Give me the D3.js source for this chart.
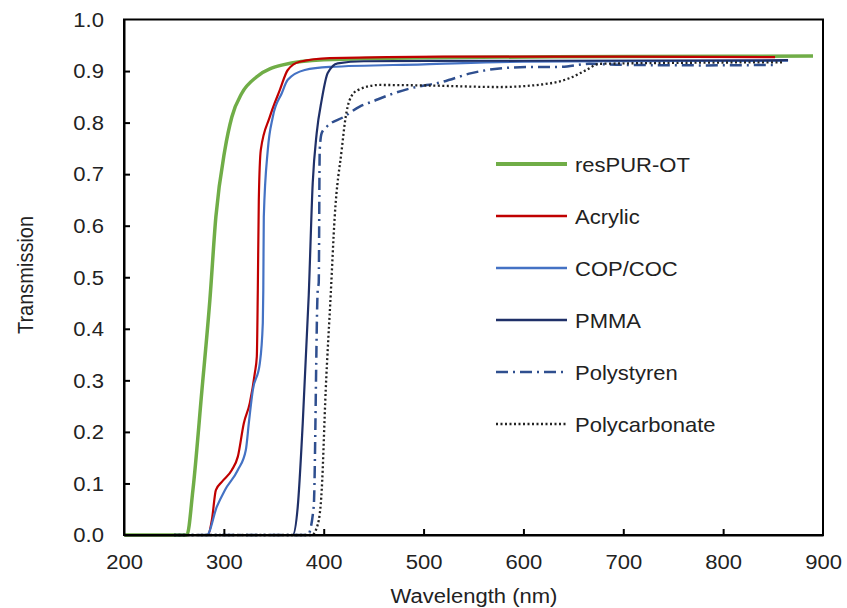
<!DOCTYPE html>
<html>
<head>
<meta charset="utf-8">
<script src="https://cdn.jsdelivr.net/npm/d3@7"></script>
<style>
  body { margin: 0; background: #fff; }
  text { font-family: "Liberation Sans", Arial, sans-serif; fill: #222; }
</style>
</head>
<body>
<script>
// data (wavelength nm, transmission)
var resPUR = [[200,0],[255,0],[263,0],[269,0.087],[278,0.28],[286,0.456],[292,0.617],[301,0.747],[308,0.811],[318,0.857],[333,0.889],[359,0.912],[400,0.922],[500,0.926],[700,0.928],[890,0.929]];
var acrylic = [[200,0],[284,0],[288,0.029],[292,0.087],[298,0.103],[308,0.126],[314,0.152],[320,0.217],[326,0.256],[331,0.314],[333,0.346],[334,0.475],[335,0.65],[337,0.747],[346,0.811],[356,0.863],[364,0.902],[376,0.918],[406,0.925],[520,0.928],[700,0.928],[852,0.927]];
var copcoc = [[250,0],[283,0],[293,0.055],[301,0.087],[314,0.126],[322,0.165],[325,0.217],[329,0.281],[336,0.333],[339,0.411],[339.5,0.475],[340,0.617],[344,0.747],[349,0.811],[358,0.857],[364,0.883],[381,0.902],[406,0.908],[500,0.913],[600,0.918],[700,0.919],[865,0.92]];
var pmma = [[250,0],[369,0],[374,0.055],[379,0.217],[385,0.465],[389,0.683],[393,0.78],[398,0.844],[404,0.896],[414,0.915],[440,0.919],[600,0.92],[865,0.921]];
var polystyren = [[250,0],[384,0],[390,0.055],[394,0.475],[395,0.489],[396,0.747],[398,0.78],[403,0.792],[420,0.811],[436,0.831],[449,0.841],[466,0.854],[486,0.866],[519,0.879],[548,0.896],[576,0.905],[609,0.908],[636,0.908],[666,0.914],[700,0.912],[780,0.911],[853,0.912]];
var polycarbonate = [[250,0],[388,0],[394,0.02],[398,0.087],[402,0.281],[407,0.466],[411,0.617],[418,0.747],[422,0.811],[426,0.844],[434,0.863],[456,0.873],[503,0.872],[576,0.869],[626,0.876],[646,0.886],[663,0.902],[676,0.914],[760,0.916],[860,0.917]];

var seriesNames = ['resPUR-OT', 'Acrylic', 'COP/COC', 'PMMA', 'Polystyren', 'Polycarbonate'];
var seriesData = [resPUR, acrylic, copcoc, pmma, polystyren, polycarbonate];
var xTicks = [200, 300, 400, 500, 600, 700, 800, 900];
var yTicks = [0, 0.1, 0.2, 0.3, 0.4, 0.5, 0.6, 0.7, 0.8, 0.9, 1.0];

var styles = [
  {color: '#70AD47', width: 3.5, dash: null},
  {color: '#C00000', width: 2.2, dash: null},
  {color: '#4472C4', width: 2.2, dash: null},
  {color: '#1F3068', width: 2.2, dash: null},
  {color: '#2F4F8F', width: 2.5, dash: '12,5,2,5'},
  {color: '#222', width: 2.3, dash: '2,2.5'}
];

var width = 847, height = 608;
var fontSize = '19.5px';
var stretch = 'scale(1.13,1)'; // the reference text is a little wide

var svg = d3.select('body').append('svg')
    .attr('width', width)
    .attr('height', height);

var x = d3.scaleLinear().domain([200, 900]).range([124, 823]);
var y = d3.scaleLinear().domain([0, 1]).range([535, 19.5]);

// curves
var line = d3.line()
    .x(function(d) { return x(d[0]); })
    .y(function(d) { return y(d[1]); })
    .curve(d3.curveMonotoneX);

svg.append('g').selectAll('path')
    .data(seriesData)
    .enter().append('path')
    .attr('d', line)
    .attr('fill', 'none')
    .attr('stroke', function(d, i) { return styles[i].color; })
    .attr('stroke-width', function(d, i) { return styles[i].width; })
    .attr('stroke-dasharray', function(d, i) { return styles[i].dash; })
    .attr('stroke-linejoin', 'round');

// frame
svg.append('rect')
    .attr('x', x(200)).attr('y', y(1))
    .attr('width', x(900) - x(200)).attr('height', y(0) - y(1))
    .attr('fill', 'none').attr('stroke', '#000').attr('stroke-width', 2);

// axes, ticks pointing inwards
var xAxis = svg.append('g')
    .attr('transform', 'translate(0,' + y(0) + ')')
    .call(d3.axisBottom(x).tickValues(xTicks).tickSizeInner(-6).tickSizeOuter(0));
var yAxis = svg.append('g')
    .attr('transform', 'translate(' + x(200) + ',0)')
    .call(d3.axisLeft(y).tickValues(yTicks).tickFormat(d3.format('.1f')).tickSizeInner(-6).tickSizeOuter(0));

[xAxis, yAxis].forEach(function(a) {
  a.select('.domain').attr('stroke', '#000').attr('stroke-width', 2);
  a.selectAll('.tick line').attr('stroke', '#000').attr('stroke-width', 2);
  a.selectAll('.tick text')
    .style('font-family', '"Liberation Sans", Arial, sans-serif')
    .style('font-size', fontSize)
    .attr('fill', '#222')
    .attr('x', 0).attr('y', 0).attr('dy', '0.35em');
});
xAxis.selectAll('.tick text').attr('transform', 'translate(0,27) ' + stretch);
yAxis.selectAll('.tick text').attr('transform', 'translate(-20,0) ' + stretch);
xAxis.selectAll('.tick line').filter(function(d) { return d === 200 || d === 900; }).remove();
yAxis.selectAll('.tick line').filter(function(d) { return d === 0 || d === 1; }).remove();

// axis titles
svg.append('text')
    .attr('transform', 'translate(474,603) ' + stretch)
    .attr('text-anchor', 'middle')
    .style('font-size', fontSize)
    .text('Wavelength (nm)');

svg.append('text')
    .attr('transform', 'translate(33,275) rotate(-90) scale(1,1.13)')
    .attr('text-anchor', 'middle')
    .style('font-size', '20px')
    .text('Transmission');

// legend
var legend = svg.append('g').selectAll('g')
    .data(seriesNames)
    .enter().append('g')
    .attr('transform', function(d, i) { return 'translate(496,' + (164 + i * 52) + ')'; });

legend.append('line')
    .attr('x1', 0).attr('x2', 71)
    .attr('stroke', function(d, i) { return styles[i].color; })
    .attr('stroke-width', function(d, i) { return i === 0 ? 4 : 2.5; })
    .attr('stroke-dasharray', function(d, i) { return styles[i].dash; });

legend.append('text')
    .attr('transform', 'translate(79,7.5) scale(1.1,1)')
    .style('font-size', '20px')
    .text(function(d) { return d; });
</script>
</body>
</html>
